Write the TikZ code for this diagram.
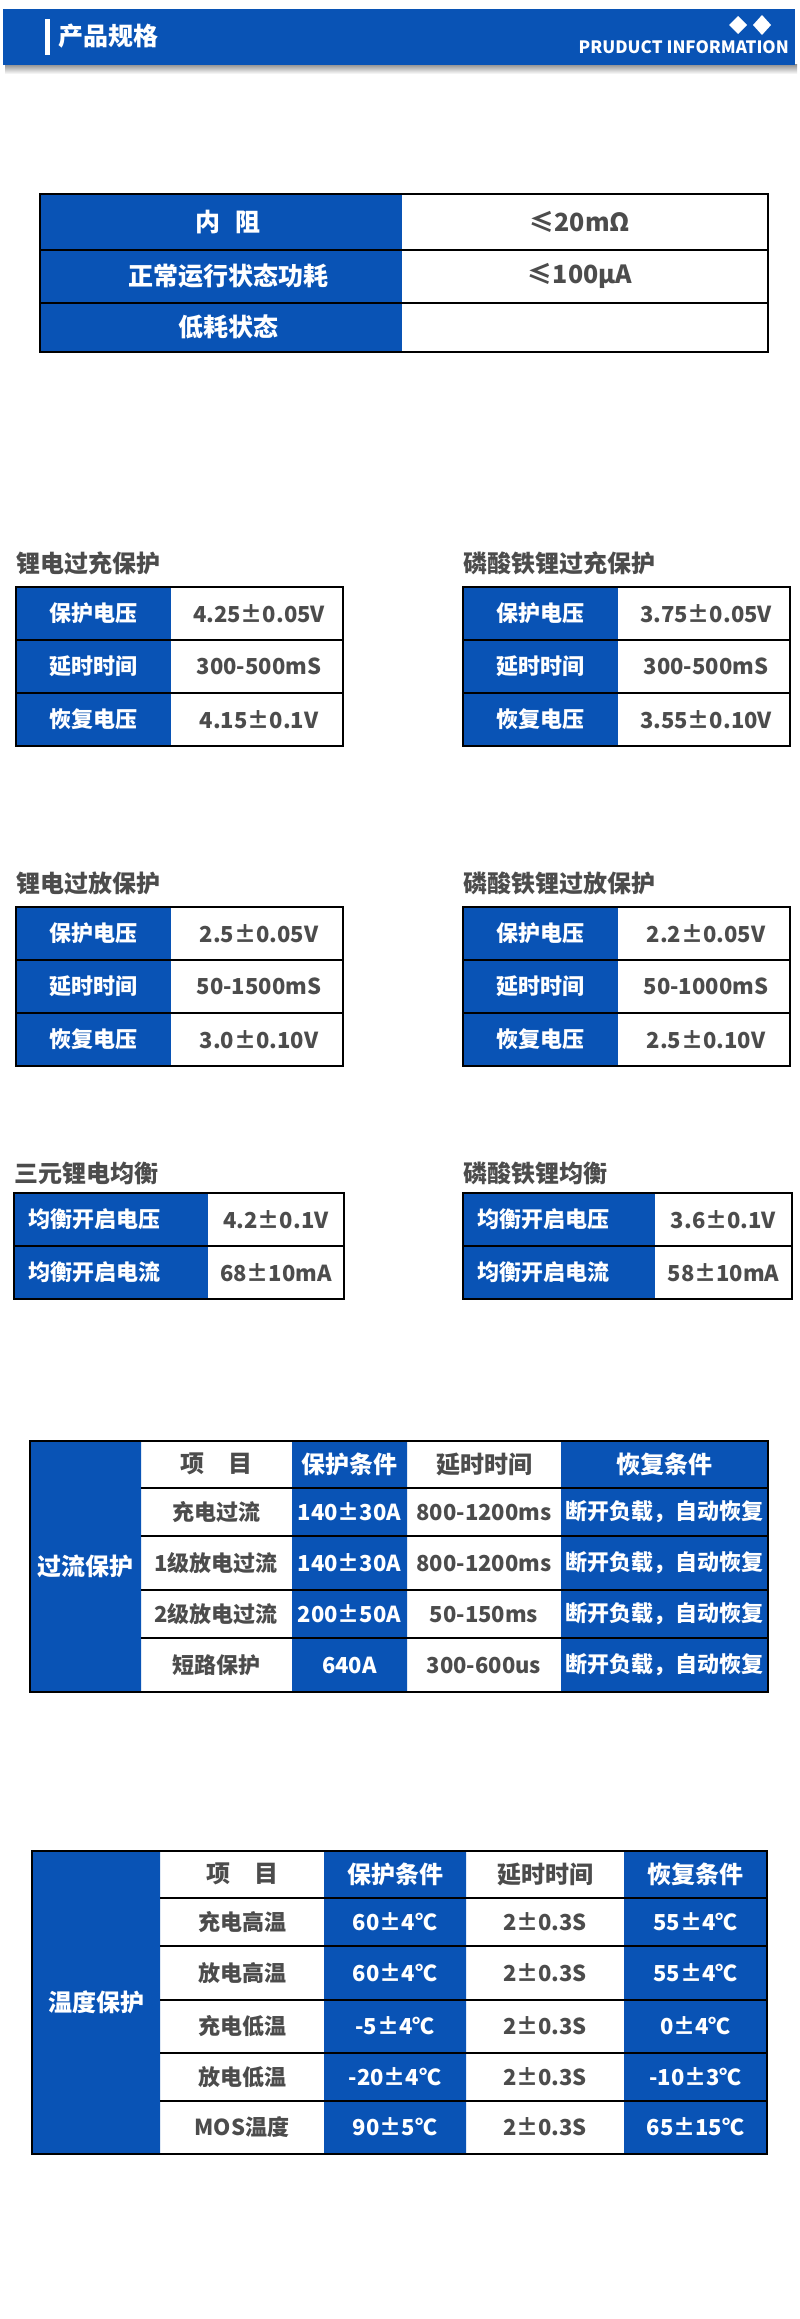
\documentclass[tikz,border=0pt]{standalone}
\usepackage{fontspec}
\setmainfont{Noto Sans CJK SC}
\definecolor{pblue}{RGB}{9,83,181}
\definecolor{pgray}{RGB}{76,76,76}

\begin{document}
\begin{tikzpicture}[x=1pt, y=-1pt,
  tline/.style={line width=2.3pt, black},
  cw/.style={font=\bfseries\fontsize{22}{26}\selectfont, text=white, inner sep=0pt},
  cg/.style={font=\bfseries\fontsize{22}{26}\selectfont, text=pgray, inner sep=0pt},
  hw/.style={cw, font=\bfseries\fontsize{24}{28}\selectfont},
  hg/.style={cg, font=\bfseries\fontsize{24}{28}\selectfont},
  ttl/.style={font=\bfseries\fontsize{24}{28}\selectfont, text=pgray, anchor=west, inner sep=0pt}]
\useasboundingbox (0,0) rectangle (800,2319);
\fill[white] (0,0) rectangle (800,2319);
\shade[top color=black!45, bottom color=white] (5,64) rectangle (797,74);
\fill[pblue] (3,9) rectangle (795,65);
\fill[white] (45,19) rectangle (50,55);
\node[hw, anchor=west, font=\bfseries\fontsize{25}{30}\selectfont] (head) at (58,36) {产品规格};
\node[cw, anchor=east, font=\bfseries\fontsize{17}{20}\selectfont] (info) at (789,47) {PRUDUCT INFORMATION};
\fill[white] (738,16) -- (747,25) -- (738,34) -- (729,25) -- cycle (762,15) -- (771,25) -- (762,35) -- (753,25) -- cycle;

\fill[pblue] (40,194) rectangle (402,352);
\foreach \k/\v/\y [count=\i] in {内\hspace{0.6em}阻/≤20mΩ/222, 正常运行状态功耗/≤100μA/276, 低耗状态//327}{
  \node[hw, font=\bfseries\fontsize{25}{30}\selectfont] (ra\i) at (228,\y) {\k};
  \node[hg, font=\bfseries\fontsize{25}{30}\selectfont] (rb\i) at (580,\y) {\v};
}
\draw[tline] (40,194) rectangle (768,352) (40,250) -- (768,250) (40,303) -- (768,303);

\foreach \x/\y/\n/\ttl/\va/\vb/\vc in {16/587/a/锂电过充保护/4.25±0.05V/300-500mS/4.15±0.1V, 463/587/b/磷酸铁锂过充保护/3.75±0.05V/300-500mS/3.55±0.10V, 16/907/c/锂电过放保护/2.5±0.05V/50-1500mS/3.0±0.10V, 463/907/d/磷酸铁锂过放保护/2.2±0.05V/50-1000mS/2.5±0.10V}{
  \node[ttl] (\n) at (\x,\y-24) {\ttl};
  \fill[pblue] (\x,\y) rectangle ++(155,159);
  \foreach \k/\v [count=\i] in {保护电压/\va, 延时时间/\vb, 恢复电压/\vc}{
    \node[cw] (\n k\i) at (\x+77.5,\y+53*\i-26.5) {\k};
    \node[cg] (\n v\i) at (\x+243,\y+53*\i-26.5) {\v};
  }
  \draw[tline] (\x,\y) rectangle ++(327,159) (\x,\y+53) -- ++(327,0) (\x,\y+106) -- ++(327,0);
}

\foreach \x/\d/\w/\n/\ttl/\va/\vb in {14/194/330/e/三元锂电均衡/4.2±0.1V/68±10mA, 463/192/329/f/磷酸铁锂均衡/3.6±0.1V/58±10mA}{
  \node[ttl] (\n) at (\x,1173) {\ttl};
  \fill[pblue] (\x,1193) rectangle ++(\d,106);
  \foreach \k/\v [count=\i] in {均衡开启电压/\va, 均衡开启电流/\vb}{
    \node[cw, anchor=west] (\n k\i) at (\x+14,1193+53*\i-26.5) {\k};
    \node[cg] (\n v\i) at ({\x+(\d+\w)/2},1193+53*\i-26.5) {\v};
  }
  \draw[tline] (\x,1193) rectangle ++(\w,106) (\x,1246) -- ++(\w,0);
}

\fill[pblue] (30,1441) rectangle (141,1692) (292,1441) rectangle (407,1692) (561,1441) rectangle (768,1692);
\node[hw] (oc) at (85.5,1566) {过流保护};
\node[hg] (oc0a) at (216,1464) {项\hspace{1em}目};
\node[hw] (oc0b) at (349.5,1464) {保护条件};
\node[hg] (oc0c) at (484,1464) {延时时间};
\node[hw] (oc0d) at (664.5,1464) {恢复条件};
\foreach \a/\b/\c/\y [count=\i] in {充电过流/140±30A/800-1200ms/1512, 1级放电过流/140±30A/800-1200ms/1563, 2级放电过流/200±50A/50-150ms/1614, 短路保护/640A/300-600us/1665}{
  \node[cg] (oc\i a) at (216,\y) {\a};
  \node[cw] (oc\i b) at (349.5,\y) {\b};
  \node[cg] (oc\i c) at (484,\y) {\c};
  \node[cw] (oc\i d) at (664.5,\y) {断开负载，自动恢复};
}
\draw[tline] (30,1441) rectangle (768,1692);
\foreach \y in {1488,1536,1590,1638} \draw[tline] (141,\y) -- (768,\y);

\fill[pblue] (32,1851) rectangle (160,2154) (324,1851) rectangle (466,2154) (624,1851) rectangle (767,2154);
\node[hw] (tp) at (96,2002) {温度保护};
\node[hg] (tp0a) at (242,1874) {项\hspace{1em}目};
\node[hw] (tp0b) at (395,1874) {保护条件};
\node[hg] (tp0c) at (545,1874) {延时时间};
\node[hw] (tp0d) at (695.5,1874) {恢复条件};
\foreach \a/\b/\d/\y [count=\i] in {充电高温/60±4℃/55±4℃/1922, 放电高温/60±4℃/55±4℃/1973, 充电低温/-5±4℃/0±4℃/2026, 放电低温/-20±4℃/-10±3℃/2077, MOS温度/90±5℃/65±15℃/2127}{
  \node[cg] (tp\i a) at (242,\y) {\a};
  \node[cw] (tp\i b) at (395,\y) {\b};
  \node[cg] (tp\i c) at (545,\y) {2±0.3S};
  \node[cw] (tp\i d) at (695.5,\y) {\d};
}
\draw[tline] (32,1851) rectangle (767,2154);
\foreach \y in {1898,1946,2000,2053,2101} \draw[tline] (160,\y) -- (767,\y);
\end{tikzpicture}
\end{document}
